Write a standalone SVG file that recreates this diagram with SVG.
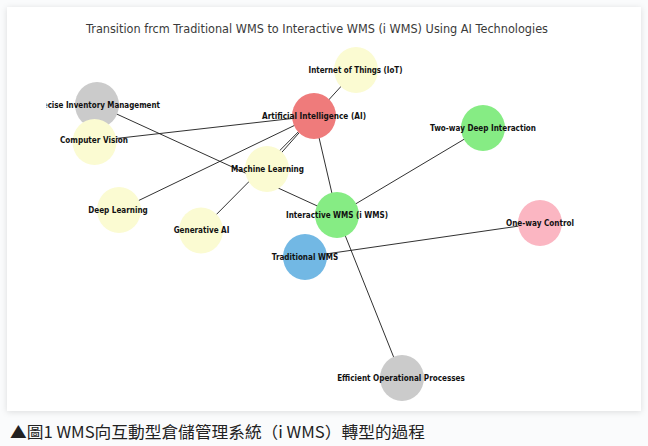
<svg xmlns="http://www.w3.org/2000/svg" width="648" height="446" viewBox="0 0 648 446">
  <defs>
    <style>
      .title { font-family: "DejaVu Sans", "Liberation Sans", sans-serif; font-size: 12px; fill: #3a3a3a; }
      .lbl { font-family: "DejaVu Sans", "Liberation Sans", sans-serif; font-size: 8px; font-weight: bold; fill: #111; text-anchor: middle; }
      .edge { stroke: #1a1a1a; stroke-width: 0.9; fill: none; }
      .yellow { fill: #fbfbd2; }
      .red { fill: #ef7b7b; }
      .green { fill: #86ec84; }
      .blue { fill: #72b8e4; }
      .pink { fill: #fbb6c2; }
      .gray { fill: #cbcbcb; }
      .caption { font-family: "Noto Sans CJK TC", "Noto Sans", sans-serif; font-size: 16px; fill: #222; }
    </style>
    <filter id="shadow" x="-5%" y="-5%" width="110%" height="110%">
      <feDropShadow dx="0" dy="1" stdDeviation="3" flood-color="#000" flood-opacity="0.12"/>
    </filter>
    <clipPath id="axes">
      <rect x="46.5" y="7" width="594" height="404"/>
    </clipPath>
  </defs>

  <rect x="0" y="0" width="648" height="446" fill="#fafbfc"/>
  <rect x="7" y="7" width="634" height="404" fill="#ffffff" filter="url(#shadow)"/>

  <text class="title" x="317" y="33" text-anchor="middle" textLength="462" lengthAdjust="spacingAndGlyphs">Transition frcm Traditional WMS to Interactive WMS (i WMS) Using AI Technologies</text>

  <g id="connectors">
    <line class="edge" x1="356" y1="70" x2="314" y2="116"/>
    <line class="edge" x1="94" y1="141" x2="314" y2="116"/>
    <line class="edge" x1="119" y1="210" x2="314" y2="116"/>
    <line class="edge" x1="201" y1="230" x2="314" y2="116"/>
    <line class="edge" x1="267" y1="169" x2="314" y2="116"/>
    <line class="edge" x1="314" y1="116" x2="337" y2="215"/>
    <line class="edge" x1="97" y1="105" x2="337" y2="215"/>
    <line class="edge" x1="337" y1="215" x2="483" y2="128"/>
    <line class="edge" x1="337" y1="215" x2="402" y2="378"/>
    <line class="edge" x1="305" y1="257" x2="540" y2="223"/>
  </g>

  <g id="node-iot">
    <ellipse class="yellow" cx="356" cy="70" rx="22" ry="23"/>
    <text class="lbl" x="355.5" y="73" textLength="94" lengthAdjust="spacingAndGlyphs">Internet of Things (IoT)</text>
  </g>
  <g id="node-pim">
    <ellipse class="gray" cx="97" cy="105" rx="22" ry="23"/>
    <text class="lbl" x="97" y="108" textLength="126" lengthAdjust="spacingAndGlyphs" clip-path="url(#axes)">Precise Inventory Management</text>
  </g>
  <g id="node-cv">
    <ellipse class="yellow" cx="94.5" cy="142" rx="22" ry="23"/>
    <text class="lbl" x="94" y="143" textLength="68" lengthAdjust="spacingAndGlyphs">Computer Vision</text>
  </g>
  <g id="node-ai">
    <ellipse class="red" cx="314" cy="116" rx="22" ry="23"/>
    <text class="lbl" x="314" y="119" textLength="104" lengthAdjust="spacingAndGlyphs">Artificial Intelligence (AI)</text>
  </g>
  <g id="node-twoway">
    <ellipse class="green" cx="483" cy="128" rx="22" ry="23"/>
    <text class="lbl" x="483" y="131" textLength="106" lengthAdjust="spacingAndGlyphs">Two-way Deep Interaction</text>
  </g>
  <g id="node-ml">
    <ellipse class="yellow" cx="267" cy="169" rx="22" ry="23"/>
    <text class="lbl" x="267.5" y="172" textLength="73" lengthAdjust="spacingAndGlyphs">Machine Learning</text>
  </g>
  <g id="node-dl">
    <ellipse class="yellow" cx="119" cy="210" rx="22" ry="23"/>
    <text class="lbl" x="118" y="213" textLength="59.5" lengthAdjust="spacingAndGlyphs">Deep Learning</text>
  </g>
  <g id="node-genai">
    <ellipse class="yellow" cx="201" cy="230.5" rx="22" ry="23"/>
    <text class="lbl" x="201.5" y="233" textLength="55.7" lengthAdjust="spacingAndGlyphs">Generative AI</text>
  </g>
  <g id="node-iwms">
    <ellipse class="green" cx="337" cy="215" rx="22" ry="23"/>
    <text class="lbl" x="337" y="217.5" textLength="102" lengthAdjust="spacingAndGlyphs">Interactive WMS (i WMS)</text>
  </g>
  <g id="node-oneway">
    <ellipse class="pink" cx="540" cy="223" rx="22" ry="23"/>
    <text class="lbl" x="540" y="225.5" textLength="68" lengthAdjust="spacingAndGlyphs">One-way Control</text>
  </g>
  <g id="node-traditional">
    <ellipse class="blue" cx="305" cy="257" rx="22" ry="23"/>
    <text class="lbl" x="305" y="259.5" textLength="66.5" lengthAdjust="spacingAndGlyphs">Traditional WMS</text>
  </g>
  <g id="node-efficient">
    <ellipse class="gray" cx="402" cy="378" rx="22" ry="23"/>
    <text class="lbl" x="401" y="380.5" textLength="127.7" lengthAdjust="spacingAndGlyphs">Efficient Operational Processes</text>
  </g>

  <text class="caption" x="10" y="438" textLength="415" lengthAdjust="spacingAndGlyphs">▲圖1 WMS向互動型倉儲管理系統（i WMS）轉型的過程</text>
</svg>
